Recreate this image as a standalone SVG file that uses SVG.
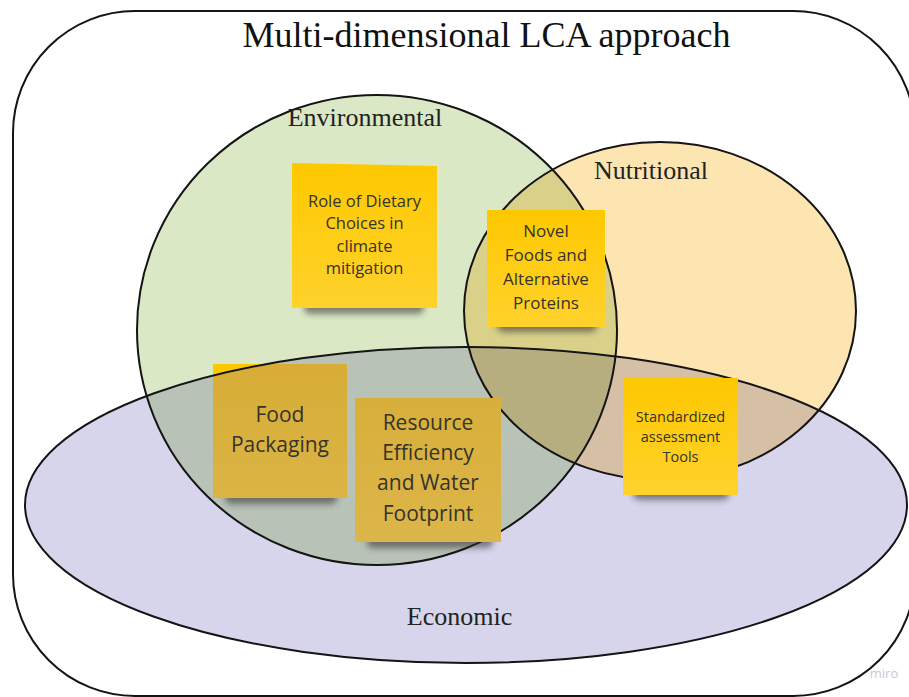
<svg xmlns="http://www.w3.org/2000/svg" width="909" height="697" viewBox="0 0 909 697">
<defs>
<style>
.lbl{font-family:"Liberation Serif","Times New Roman",serif;fill:#222;font-size:26px;text-anchor:middle}
.st{font-family:"Open Sans","Noto Sans",sans-serif;fill:#35332b;text-anchor:middle}
.edge{fill:none;stroke:#141414;stroke-width:2}
.shadow{fill:#2b2b2b;opacity:0.55;filter:url(#blur)}
</style>
<filter id="blur" x="-20%" y="-100%" width="140%" height="300%"><feGaussianBlur stdDeviation="3"/></filter>
<linearGradient id="yel" x1="0" y1="0" x2="0" y2="1"><stop offset="0" stop-color="#fec800"/><stop offset="1" stop-color="#ffd22c"/></linearGradient>
<linearGradient id="gold" gradientUnits="userSpaceOnUse" x1="0" y1="364" x2="0" y2="542"><stop offset="0" stop-color="#d7ad36"/><stop offset="1" stop-color="#dcb64a"/></linearGradient>
<clipPath id="fpclip"><rect x="213" y="364" width="134" height="134"/></clipPath>
</defs>
<rect x="0" y="0" width="909" height="697" fill="#fff"/>
<rect x="13" y="11" width="902" height="685" rx="122" ry="122" fill="#fff" stroke="#141414" stroke-width="2"/>
<text class="lbl" x="486.5" y="47" style="font-size:36px;fill:#111">Multi-dimensional LCA approach</text>

<g id="fills" style="isolation:isolate">
<ellipse cx="377" cy="330" rx="240" ry="235" fill="#dbe8c6"/>
<ellipse cx="660" cy="311" rx="196" ry="169" fill="#fde5b2" style="mix-blend-mode:multiply"/>
<ellipse cx="466" cy="505" rx="441" ry="158" fill="#d7d5ec" style="mix-blend-mode:multiply"/>
</g>

<g id="environmental">
<ellipse class="edge" cx="377" cy="330" rx="240" ry="235"/>
<text class="lbl" x="365" y="126">Environmental</text>
</g>
<g id="nutritional">
<ellipse class="edge" cx="660" cy="311" rx="196" ry="169"/>
<text class="lbl" x="651" y="179">Nutritional</text>
</g>

<g id="food-packaging">
<rect class="shadow" x="225" y="490" width="112" height="14" rx="6"/>
<rect x="213" y="364" width="134" height="134" fill="#fec800"/>
<g clip-path="url(#fpclip)"><ellipse cx="466" cy="505" rx="441" ry="158" fill="url(#gold)"/></g>
<text class="st" style="font-size:21px"><tspan x="280" y="422">Food</tspan><tspan x="280" y="452">Packaging</tspan></text>
</g>

<g id="resource-efficiency">
<rect class="shadow" x="367" y="534" width="126" height="14" rx="6"/>
<rect x="355" y="398" width="146" height="144" fill="url(#gold)"/>
<text class="st" style="font-size:21px"><tspan x="428" y="430">Resource</tspan><tspan x="428" y="460">Efficiency</tspan><tspan x="428" y="490">and Water</tspan><tspan x="428" y="521">Footprint</tspan></text>
</g>

<g id="economic">
<ellipse class="edge" cx="466" cy="505" rx="441" ry="158"/>
<text class="lbl" x="459.5" y="625">Economic</text>
</g>

<g id="dietary-choices">
<rect class="shadow" x="304" y="300" width="120" height="14" rx="6"/>
<path d="M292 163 L437 166 L437 308 L292 308 Z" fill="url(#yel)"/>
<text class="st" style="font-size:16.5px"><tspan x="364.5" y="207">Role of Dietary</tspan><tspan x="364.5" y="229">Choices in</tspan><tspan x="364.5" y="252">climate</tspan><tspan x="364.5" y="274">mitigation</tspan></text>
</g>

<g id="novel-foods">
<rect class="shadow" x="497" y="319" width="100" height="13" rx="6"/>
<rect x="487" y="210" width="118" height="117" fill="url(#yel)"/>
<text class="st" style="font-size:17px"><tspan x="546" y="237">Novel</tspan><tspan x="546" y="261">Foods and</tspan><tspan x="546" y="285">Alternative</tspan><tspan x="546" y="309">Proteins</tspan></text>
</g>

<g id="standardized-tools">
<rect class="shadow" x="633" y="487" width="96" height="13" rx="6"/>
<rect x="623" y="378" width="115" height="117" fill="url(#yel)"/>
<text class="st" style="font-size:14.5px"><tspan x="680.5" y="422">Standardized</tspan><tspan x="680.5" y="442">assessment</tspan><tspan x="680.5" y="462">Tools</tspan></text>
</g>

<g id="connectors"></g>
<text x="884" y="678" style="font-family:'Open Sans',sans-serif;font-size:13px;fill:#c8c8d4;text-anchor:middle">miro</text>
</svg>
